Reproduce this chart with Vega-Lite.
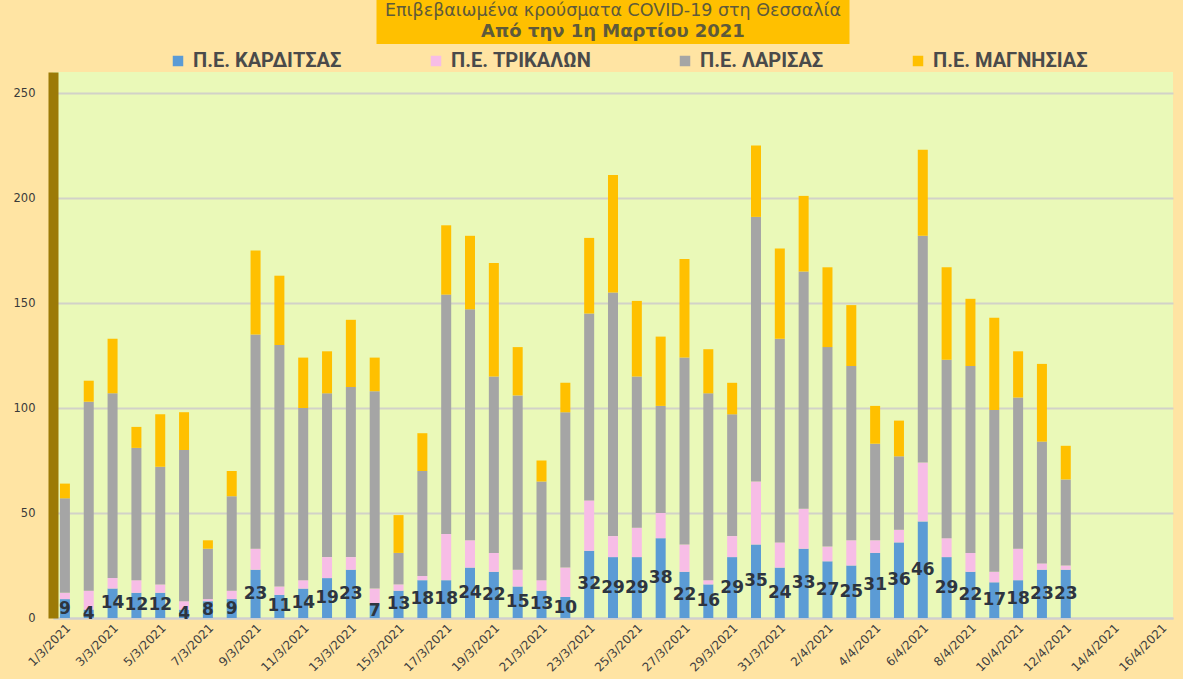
{
  "$schema": "https://vega.github.io/schema/vega-lite/v6.json",
  "background": "#FFE4A3",
  "padding": {"left": 13, "top": 0, "right": 10, "bottom": 5},
  "config": {"view": {"stroke": null}},
  "spacing": 28,
  "bounds": "flush",
  "center": true,
  "datasets": {
    "cases": [
      {"date": "1/3/2021", "K": 9, "T": 3, "L": 45, "M": 7},
      {"date": "2/3/2021", "K": 4, "T": 9, "L": 90, "M": 10},
      {"date": "3/3/2021", "K": 14, "T": 5, "L": 88, "M": 26},
      {"date": "4/3/2021", "K": 12, "T": 6, "L": 63, "M": 10},
      {"date": "5/3/2021", "K": 12, "T": 4, "L": 56, "M": 25},
      {"date": "6/3/2021", "K": 4, "T": 4, "L": 72, "M": 18},
      {"date": "7/3/2021", "K": 8, "T": 1, "L": 24, "M": 4},
      {"date": "8/3/2021", "K": 9, "T": 4, "L": 45, "M": 12},
      {"date": "9/3/2021", "K": 23, "T": 10, "L": 102, "M": 40},
      {"date": "10/3/2021", "K": 11, "T": 4, "L": 115, "M": 33},
      {"date": "11/3/2021", "K": 14, "T": 4, "L": 82, "M": 24},
      {"date": "12/3/2021", "K": 19, "T": 10, "L": 78, "M": 20},
      {"date": "13/3/2021", "K": 23, "T": 6, "L": 81, "M": 32},
      {"date": "14/3/2021", "K": 7, "T": 7, "L": 94, "M": 16},
      {"date": "15/3/2021", "K": 13, "T": 3, "L": 15, "M": 18},
      {"date": "16/3/2021", "K": 18, "T": 2, "L": 50, "M": 18},
      {"date": "17/3/2021", "K": 18, "T": 22, "L": 114, "M": 33},
      {"date": "18/3/2021", "K": 24, "T": 13, "L": 110, "M": 35},
      {"date": "19/3/2021", "K": 22, "T": 9, "L": 84, "M": 54},
      {"date": "20/3/2021", "K": 15, "T": 8, "L": 83, "M": 23},
      {"date": "21/3/2021", "K": 13, "T": 5, "L": 47, "M": 10},
      {"date": "22/3/2021", "K": 10, "T": 14, "L": 74, "M": 14},
      {"date": "23/3/2021", "K": 32, "T": 24, "L": 89, "M": 36},
      {"date": "24/3/2021", "K": 29, "T": 10, "L": 116, "M": 56},
      {"date": "25/3/2021", "K": 29, "T": 14, "L": 72, "M": 36},
      {"date": "26/3/2021", "K": 38, "T": 12, "L": 51, "M": 33},
      {"date": "27/3/2021", "K": 22, "T": 13, "L": 89, "M": 47},
      {"date": "28/3/2021", "K": 16, "T": 2, "L": 89, "M": 21},
      {"date": "29/3/2021", "K": 29, "T": 10, "L": 58, "M": 15},
      {"date": "30/3/2021", "K": 35, "T": 30, "L": 126, "M": 34},
      {"date": "31/3/2021", "K": 24, "T": 12, "L": 97, "M": 43},
      {"date": "1/4/2021", "K": 33, "T": 19, "L": 113, "M": 36},
      {"date": "2/4/2021", "K": 27, "T": 7, "L": 95, "M": 38},
      {"date": "3/4/2021", "K": 25, "T": 12, "L": 83, "M": 29},
      {"date": "4/4/2021", "K": 31, "T": 6, "L": 46, "M": 18},
      {"date": "5/4/2021", "K": 36, "T": 6, "L": 35, "M": 17},
      {"date": "6/4/2021", "K": 46, "T": 28, "L": 108, "M": 41},
      {"date": "7/4/2021", "K": 29, "T": 9, "L": 85, "M": 44},
      {"date": "8/4/2021", "K": 22, "T": 9, "L": 89, "M": 32},
      {"date": "9/4/2021", "K": 17, "T": 5, "L": 77, "M": 44},
      {"date": "10/4/2021", "K": 18, "T": 15, "L": 72, "M": 22},
      {"date": "11/4/2021", "K": 23, "T": 3, "L": 58, "M": 37},
      {"date": "12/4/2021", "K": 23, "T": 2, "L": 41, "M": 16}
    ],
    "regions": [
      {"code": "K", "name": "Π.Ε. ΚΑΡΔΙΤΣΑΣ", "rank": 1},
      {"code": "T", "name": "Π.Ε. ΤΡΙΚΑΛΩΝ", "rank": 2},
      {"code": "L", "name": "Π.Ε. ΛΑΡΙΣΑΣ", "rank": 3},
      {"code": "M", "name": "Π.Ε. ΜΑΓΝΗΣΙΑΣ", "rank": 4}
    ]
  },
  "vconcat": [
    {
      "width": 473,
      "height": 44,
      "view": {"fill": "#FFC000", "stroke": null},
      "layer": [
        {
          "data": {"values": [{"t": "Επιβεβαιωμένα κρούσματα COVID-19 στη Θεσσαλία"}]},
          "mark": {"type": "text", "font": "DejaVu Sans", "fontSize": 17.5, "color": "#5E5A3A", "dy": -11},
          "encoding": {"text": {"field": "t"}}
        },
        {
          "data": {"values": [{"t": "Από την 1η Μαρτίου 2021"}]},
          "mark": {"type": "text", "font": "DejaVu Sans", "fontSize": 18, "fontWeight": "bold", "color": "#5E5A3A", "dy": 10},
          "encoding": {"text": {"field": "t"}}
        }
      ]
    },
    {
      "width": 1120,
      "height": 546,
      "view": {"fill": "#EAF9B8", "stroke": null},
      "data": {"name": "cases"},
      "layer": [
        {
          "transform": [
            {"fold": ["K", "T", "L", "M"], "as": ["code", "count"]},
            {"lookup": "code", "from": {"data": {"name": "regions"}, "key": "code", "fields": ["name", "rank"]}}
          ],
          "mark": {"type": "bar"},
          "encoding": {
            "x": {
              "field": "date", "type": "ordinal", "sort": null,
              "scale": {
                "domain": ["1/3/2021","2/3/2021","3/3/2021","4/3/2021","5/3/2021","6/3/2021","7/3/2021","8/3/2021","9/3/2021","10/3/2021","11/3/2021","12/3/2021","13/3/2021","14/3/2021","15/3/2021","16/3/2021","17/3/2021","18/3/2021","19/3/2021","20/3/2021","21/3/2021","22/3/2021","23/3/2021","24/3/2021","25/3/2021","26/3/2021","27/3/2021","28/3/2021","29/3/2021","30/3/2021","31/3/2021","1/4/2021","2/4/2021","3/4/2021","4/4/2021","5/4/2021","6/4/2021","7/4/2021","8/4/2021","9/4/2021","10/4/2021","11/4/2021","12/4/2021","13/4/2021","14/4/2021","15/4/2021","16/4/2021"],
                "paddingInner": 0.58, "paddingOuter": 0.29
              },
              "axis": {
                "title": null,
                "values": ["1/3/2021","3/3/2021","5/3/2021","7/3/2021","9/3/2021","11/3/2021","13/3/2021","15/3/2021","17/3/2021","19/3/2021","21/3/2021","23/3/2021","25/3/2021","27/3/2021","29/3/2021","31/3/2021","2/4/2021","4/4/2021","6/4/2021","8/4/2021","10/4/2021","12/4/2021","14/4/2021","16/4/2021"],
                "labelAngle": -45,
                "labelFont": "DejaVu Sans",
                "labelFontSize": 12,
                "labelColor": "#404040",
                "labelPadding": 4,
                "ticks": false,
                "domainColor": "#CFCFCF",
                "domainWidth": 2,
                "grid": false
              }
            },
            "y": {
              "field": "count", "type": "quantitative", "stack": "zero",
              "scale": {"domain": [0, 260], "nice": false},
              "axis": {
                "title": null,
                "values": [0, 50, 100, 150, 200, 250],
                "labelFont": "DejaVu Sans",
                "labelFontSize": 11.5,
                "labelColor": "#3A3A3A",
                "labelPadding": 18,
                "ticks": false,
                "domainColor": "#9C7A06",
                "domainWidth": 10,
                "grid": true,
                "gridColor": "#D2D2C8",
                "gridWidth": 2
              }
            },
            "color": {
              "field": "name", "type": "nominal",
              "scale": {
                "domain": ["Π.Ε. ΚΑΡΔΙΤΣΑΣ", "Π.Ε. ΤΡΙΚΑΛΩΝ", "Π.Ε. ΛΑΡΙΣΑΣ", "Π.Ε. ΜΑΓΝΗΣΙΑΣ"],
                "range": ["#5B9BD5", "#F7BDE6", "#A5A5A5", "#FFC000"]
              },
              "legend": {
                "title": null,
                "orient": "none",
                "legendX": 115,
                "legendY": -21,
                "direction": "horizontal",
                "columns": 4,
                "columnPadding": 84,
                "symbolType": "square",
                "symbolSize": 110,
                "symbolStrokeWidth": 0,
                "labelFont": "Roboto",
                "labelFontSize": 20,
                "labelFontWeight": "bold",
                "labelColor": "#4A4A4A",
                "labelOffset": 5,
                "labelLimit": 0
              }
            },
            "order": {"field": "rank", "type": "quantitative", "sort": "ascending"}
          }
        },
        {
          "mark": {"type": "text", "font": "DejaVu Sans", "fontWeight": "bold", "fontSize": 17, "color": "#2D3540", "baseline": "middle"},
          "encoding": {
            "x": {
              "field": "date", "type": "ordinal", "sort": null,
              "scale": {
                "domain": ["1/3/2021","2/3/2021","3/3/2021","4/3/2021","5/3/2021","6/3/2021","7/3/2021","8/3/2021","9/3/2021","10/3/2021","11/3/2021","12/3/2021","13/3/2021","14/3/2021","15/3/2021","16/3/2021","17/3/2021","18/3/2021","19/3/2021","20/3/2021","21/3/2021","22/3/2021","23/3/2021","24/3/2021","25/3/2021","26/3/2021","27/3/2021","28/3/2021","29/3/2021","30/3/2021","31/3/2021","1/4/2021","2/4/2021","3/4/2021","4/4/2021","5/4/2021","6/4/2021","7/4/2021","8/4/2021","9/4/2021","10/4/2021","11/4/2021","12/4/2021","13/4/2021","14/4/2021","15/4/2021","16/4/2021"],
                "paddingInner": 0.58, "paddingOuter": 0.29
              }
            },
            "y": {"field": "K", "type": "quantitative", "scale": {"domain": [0, 520], "nice": false}, "axis": null},
            "text": {"field": "K", "type": "quantitative"}
          }
        }
      ],
      "resolve": {"scale": {"y": "independent"}}
    }
  ],
  "resolve": {"legend": {"color": "independent"}}
}
